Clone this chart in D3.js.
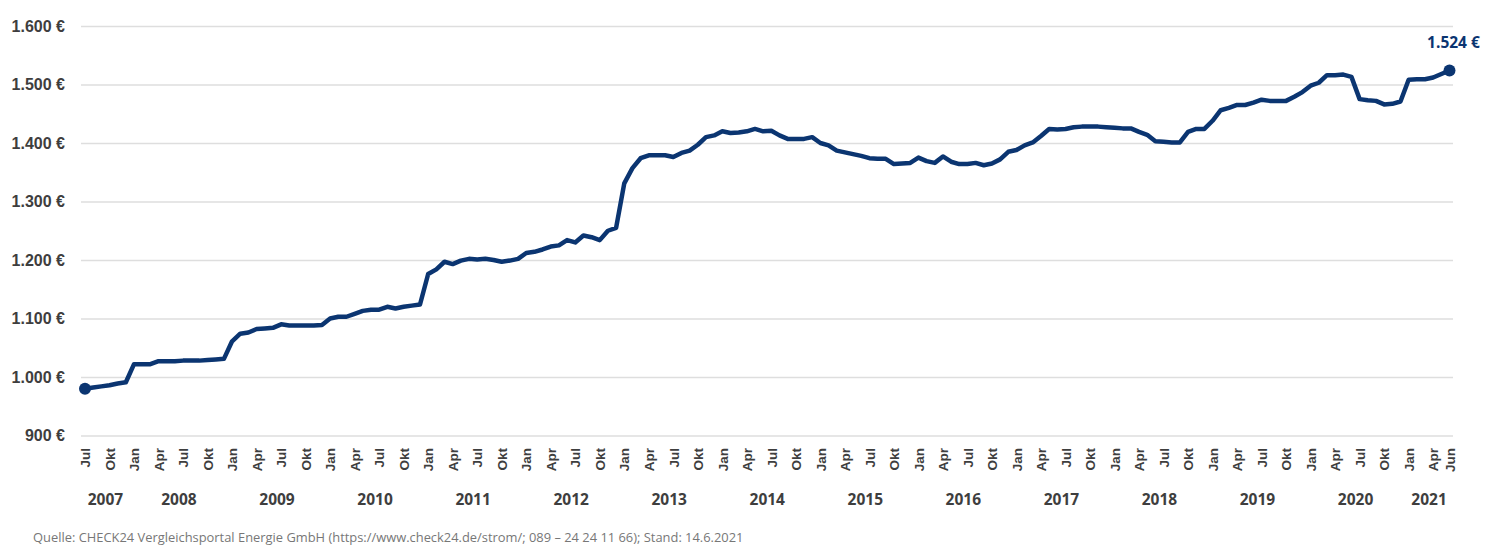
<!DOCTYPE html>
<html>
<head>
<meta charset="utf-8">
<script src="https://cdn.jsdelivr.net/npm/d3@7"></script>
<style>
  body { margin: 0; background: #fff; }
  svg { font-family: "Open Sans", sans-serif; }
</style>
</head>
<body>
<svg id="chart" width="1500" height="550"></svg>
<script>
// Stromkosten Musterhaushalt, monatlich Jul 2007 - Jun 2021
var jahre = [2007, 2008, 2009, 2010, 2011, 2012, 2013, 2014, 2015, 2016, 2017, 2018, 2019, 2020, 2021];
var monatsNamen = ["Jan", "Feb", "Mär", "Apr", "Mai", "Jun", "Jul", "Aug", "Sep", "Okt", "Nov", "Dez"];
var tickMonate = ["Jan", "Apr", "Jul", "Okt"];
var yTicks = [900, 1000, 1100, 1200, 1300, 1400, 1500, 1600];

var preise = [
  980, 982, 984, 986, 989, 991,                                   // 2007 (Jul-Dez)
  1022, 1022, 1022, 1027, 1027, 1027, 1028, 1028, 1028, 1029, 1030, 1031, // 2008
  1061, 1074, 1076, 1082, 1083, 1084, 1090, 1088, 1088, 1088, 1088, 1089, // 2009
  1100, 1103, 1103, 1108, 1113, 1115, 1115, 1120, 1117, 1120, 1122, 1124, // 2010
  1176, 1184, 1197, 1193, 1199, 1202, 1201, 1202, 1200, 1197, 1199, 1202, // 2011
  1212, 1214, 1218, 1223, 1225, 1234, 1230, 1242, 1239, 1234, 1250, 1255, // 2012
  1331, 1357, 1374, 1379, 1379, 1379, 1376, 1383, 1387, 1397, 1410, 1413, // 2013
  1420, 1417, 1418, 1420, 1424, 1420, 1421, 1413, 1407, 1407, 1407, 1410, // 2014
  1400, 1396, 1387, 1384, 1381, 1378, 1374, 1373, 1373, 1364, 1365, 1366, // 2015
  1375, 1369, 1366, 1377, 1368, 1364, 1364, 1366, 1362, 1365, 1372, 1385, // 2016
  1388, 1396, 1401, 1412, 1424, 1423, 1424, 1427, 1428, 1428, 1428, 1427, // 2017
  1426, 1425, 1425, 1419, 1414, 1403, 1402, 1401, 1401, 1419, 1424, 1424, // 2018
  1438, 1456, 1460, 1465, 1465, 1469, 1474, 1472, 1472, 1472, 1479, 1487, // 2019
  1498, 1503, 1516, 1516, 1517, 1513, 1475, 1473, 1472, 1466, 1467, 1471, // 2020
  1508, 1509, 1509, 1512, 1518, 1524                                // 2021 (Jan-Jun)
];

var quelle = "Quelle: CHECK24 Vergleichsportal Energie GmbH (https://www.check24.de/strom/; 089 \u2013 24 24 11 66); Stand: 14.6.2021";

function main() {
    var svg = d3.select("#chart");
    var blau = "#0b3571", grau = "#3e3e3e";

    // Kategorien: Jul 2007 bis Jun 2021
    var data = [];
    var idx = 0;
    jahre.forEach(function(j) {
        var von = (j === 2007) ? 6 : 0,
            bis = (j === 2021) ? 5 : 11;
        for (var m = von; m <= bis; m++) {
            data.push({ key: j + "-" + m, jahr: j, monat: monatsNamen[m], wert: preise[idx] });
            idx++;
        }
    });

    var x = d3.scalePoint().domain(data.map(function(d) { return d.key; })).range([85, 1449.5]),
        y = d3.scaleLinear().domain([900, 1600]).range([435.5, 26]);

    var de = d3.formatLocale({ decimal: ",", thousands: ".", grouping: [3], currency: ["", " €"] });
    var fmt = function(v) { return de.format(",.0f")(v) + " €"; };

    // y-Achse mit Gitterlinien
    var yAxis = svg.append("g")
        .attr("transform", "translate(81,0)")
        .call(d3.axisLeft(y).tickValues(yTicks).tickSize(-1372).tickPadding(16).tickFormat(fmt));
    yAxis.select(".domain").remove();
    yAxis.selectAll(".tick line").attr("stroke", "#dedede").attr("stroke-width", 1.5);
    yAxis.selectAll(".tick text")
        .attr("fill", grau).attr("font-size", 16).attr("font-weight", 700);

    // x-Achse: Monatsbeschriftung
    var last = data[data.length - 1];
    var tickKeys = data.filter(function(d) { return tickMonate.indexOf(d.monat) >= 0 || d === last; })
        .map(function(d) { return d.key; });
    var lookup = {};
    data.forEach(function(d) { lookup[d.key] = d; });

    var xAxis = svg.append("g")
        .attr("transform", "translate(0,448)")
        .call(d3.axisBottom(x).tickValues(tickKeys).tickSize(0).tickFormat(function(k) { return lookup[k].monat; }));
    xAxis.select(".domain").remove();
    xAxis.selectAll(".tick text")
        .attr("transform", "rotate(-90)")
        .attr("text-anchor", "end")
        .attr("x", 0).attr("y", 0).attr("dy", "0.35em")
        .attr("fill", grau).attr("font-size", 13.5).attr("font-weight", 700);

    // Jahreszahlen mittig unter den Monaten
    svg.append("g").selectAll("text")
        .data(jahre)
        .enter().append("text")
        .attr("x", function(j) {
            var ms = data.filter(function(d) { return d.jahr === j; });
            return (x(ms[0].key) + x(ms[ms.length - 1].key)) / 2;
        })
        .attr("y", 505)
        .attr("text-anchor", "middle")
        .attr("fill", grau).attr("font-size", 15.5).attr("font-weight", 700)
        .text(function(j) { return j; });

    // Linie
    var line = d3.line()
        .x(function(d) { return x(d.key); })
        .y(function(d) { return y(d.wert); });

    svg.append("path")
        .datum(data)
        .attr("fill", "none")
        .attr("stroke", blau)
        .attr("stroke-width", 4.5)
        .attr("stroke-linejoin", "round")
        .attr("d", line);

    // Start- und Endpunkt
    var ends = [data[0], last];
    svg.selectAll(".dot")
        .data(ends)
        .enter().append("circle")
        .attr("class", "dot")
        .attr("cx", function(d) { return x(d.key); })
        .attr("cy", function(d) { return y(d.wert); })
        .attr("r", 6)
        .attr("fill", blau);

    svg.append("text")
        .attr("x", x(last.key) + 4)
        .attr("y", y(last.wert) - 22)
        .attr("text-anchor", "middle")
        .attr("fill", blau).attr("font-size", 15.5).attr("font-weight", 700)
        .text(fmt(last.wert));

    // Quelle
    svg.append("text")
        .attr("x", 33)
        .attr("y", 542)
        .attr("fill", "#777")
        .attr("font-size", 12.9)
        .text(quelle);
}
main();
</script>
</body>
</html>
